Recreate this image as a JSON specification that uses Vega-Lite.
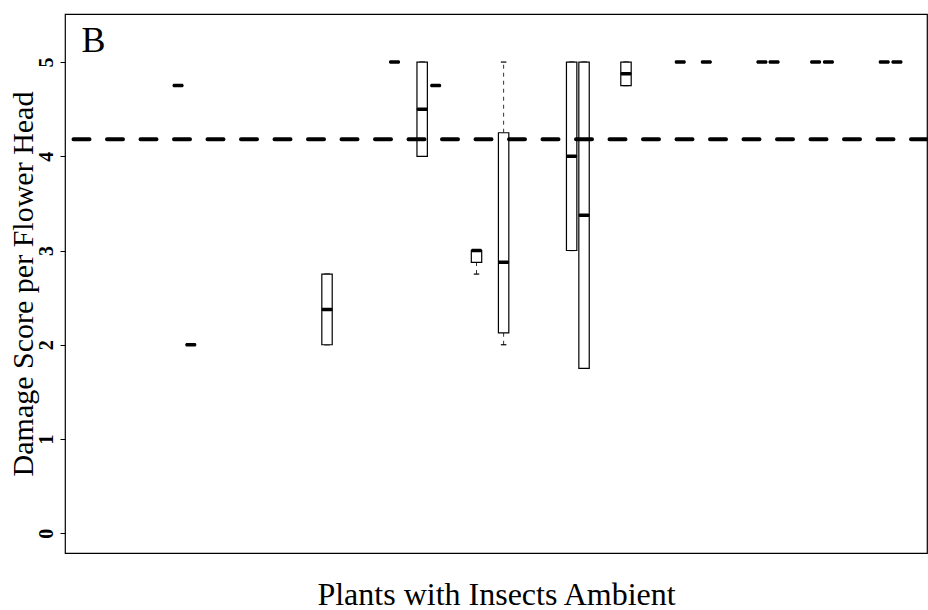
{
  "$schema": "https://vega.github.io/schema/vega-lite/v6.json",
  "width": 862,
  "height": 539,
  "autosize": "none",
  "padding": {"left": 65, "top": 14, "right": 1, "bottom": 57},
  "background": "white",
  "config": {
    "font": "Liberation Serif",
    "view": {"stroke": "black", "strokeWidth": 1.2}
  },
  "datasets": {
    "groups": [
      {"pos": 8.87, "lo": 4.75, "q1": 4.75, "med": 4.75, "q3": 4.75, "hi": 4.75},
      {"pos": 9.86, "lo": 2.0, "q1": 2.0, "med": 2.0, "q3": 2.0, "hi": 2.0},
      {"pos": 20.41, "lo": 2.0, "q1": 2.0, "med": 2.375, "q3": 2.75, "hi": 2.75},
      {"pos": 25.64, "lo": 5.0, "q1": 5.0, "med": 5.0, "q3": 5.0, "hi": 5.0},
      {"pos": 27.78, "lo": 4.0, "q1": 4.0, "med": 4.5, "q3": 5.0, "hi": 5.0},
      {"pos": 28.83, "lo": 4.75, "q1": 4.75, "med": 4.75, "q3": 4.75, "hi": 4.75},
      {"pos": 31.99, "lo": 2.75, "q1": 2.875, "med": 3.0, "q3": 3.0, "hi": 3.0},
      {"pos": 34.09, "lo": 2.0, "q1": 2.125, "med": 2.875, "q3": 4.25, "hi": 5.0},
      {"pos": 39.36, "lo": 3.0, "q1": 3.0, "med": 4.0, "q3": 5.0, "hi": 5.0},
      {"pos": 40.32, "lo": 1.75, "q1": 1.75, "med": 3.375, "q3": 5.0, "hi": 5.0},
      {"pos": 43.57, "lo": 4.75, "q1": 4.75, "med": 4.875, "q3": 5.0, "hi": 5.0},
      {"pos": 47.77, "lo": 5.0, "q1": 5.0, "med": 5.0, "q3": 5.0, "hi": 5.0},
      {"pos": 49.79, "lo": 5.0, "q1": 5.0, "med": 5.0, "q3": 5.0, "hi": 5.0},
      {"pos": 54.10, "lo": 5.0, "q1": 5.0, "med": 5.0, "q3": 5.0, "hi": 5.0},
      {"pos": 55.04, "lo": 5.0, "q1": 5.0, "med": 5.0, "q3": 5.0, "hi": 5.0},
      {"pos": 58.26, "lo": 5.0, "q1": 5.0, "med": 5.0, "q3": 5.0, "hi": 5.0},
      {"pos": 59.25, "lo": 5.0, "q1": 5.0, "med": 5.0, "q3": 5.0, "hi": 5.0},
      {"pos": 63.57, "lo": 5.0, "q1": 5.0, "med": 5.0, "q3": 5.0, "hi": 5.0},
      {"pos": 64.56, "lo": 5.0, "q1": 5.0, "med": 5.0, "q3": 5.0, "hi": 5.0}
    ],
    "refline": [{"value": 4.18}],
    "panel": [{"label": "B", "px": 1.4, "py": 5.11}]
  },
  "layer": [
    {
      "data": {"name": "groups"},
      "mark": {"type": "rule", "stroke": "#333", "strokeWidth": 1, "strokeDash": [4, 4]},
      "encoding": {
        "x": {"field": "pos", "type": "quantitative",
              "scale": {"domain": [0.5, 66.5], "nice": false, "zero": false},
              "axis": {"title": "Plants with Insects Ambient", "domain": false, "ticks": false, "labels": false, "grid": false,
                       "titleFont": "Liberation Serif", "titleFontSize": 32, "titleFontWeight": "normal", "titleColor": "black",
                       "titleBaseline": "alphabetic", "titleAlign": "center", "titleY": 51}},
        "y": {"field": "q3", "type": "quantitative",
              "scale": {"domain": [-0.21, 5.51], "nice": false, "zero": false},
              "axis": {"title": "Damage Score per Flower Head", "values": [0, 1, 2, 3, 4, 5], "format": "d", "domain": false, "grid": false,
                       "tickSize": 5, "tickColor": "black", "labelAngle": 270, "labelFont": "Liberation Serif", "labelFontSize": 20,
                       "labelFontWeight": "bold", "labelColor": "black", "labelPadding": 4,
                       "titleFont": "Liberation Serif", "titleFontSize": 30, "titleFontWeight": "normal", "titleColor": "black",
                       "titleAngle": 270, "titleBaseline": "alphabetic", "titleAlign": "center", "titleX": -33, "titleY": 269.5}},
        "y2": {"field": "hi"}
      }
    },
    {
      "data": {"name": "groups"},
      "mark": {"type": "rule", "stroke": "#333", "strokeWidth": 1, "strokeDash": [4, 4]},
      "encoding": {
        "x": {"field": "pos", "type": "quantitative"},
        "y": {"field": "lo", "type": "quantitative"},
        "y2": {"field": "q1"}
      }
    },
    {
      "data": {"name": "groups"},
      "mark": {"type": "tick", "orient": "horizontal", "size": 5.5, "thickness": 1.2, "color": "black", "opacity": 1},
      "encoding": {
        "x": {"field": "pos", "type": "quantitative"},
        "y": {"field": "hi", "type": "quantitative"}
      }
    },
    {
      "data": {"name": "groups"},
      "mark": {"type": "tick", "orient": "horizontal", "size": 5.5, "thickness": 1.2, "color": "black", "opacity": 1},
      "encoding": {
        "x": {"field": "pos", "type": "quantitative"},
        "y": {"field": "lo", "type": "quantitative"}
      }
    },
    {
      "data": {"name": "groups"},
      "mark": {"type": "bar", "width": 10.4, "fill": "white", "stroke": "black", "strokeWidth": 1.2},
      "encoding": {
        "x": {"field": "pos", "type": "quantitative"},
        "y": {"field": "q1", "type": "quantitative"},
        "y2": {"field": "q3"}
      }
    },
    {
      "data": {"name": "groups"},
      "mark": {"type": "tick", "orient": "horizontal", "size": 11, "thickness": 3.5, "cornerRadius": 1.5, "color": "black", "opacity": 1},
      "encoding": {
        "x": {"field": "pos", "type": "quantitative"},
        "y": {"field": "med", "type": "quantitative"}
      }
    },
    {
      "data": {"name": "refline"},
      "mark": {"type": "rule", "stroke": "black", "strokeWidth": 4, "strokeDash": [16, 17.5], "strokeCap": "round"},
      "encoding": {
        "y": {"field": "value", "type": "quantitative"}
      }
    },
    {
      "data": {"name": "panel"},
      "mark": {"type": "text", "font": "Liberation Serif", "fontSize": 36, "align": "left", "baseline": "alphabetic", "color": "black"},
      "encoding": {
        "x": {"field": "px", "type": "quantitative"},
        "y": {"field": "py", "type": "quantitative"},
        "text": {"field": "label"}
      }
    }
  ]
}
